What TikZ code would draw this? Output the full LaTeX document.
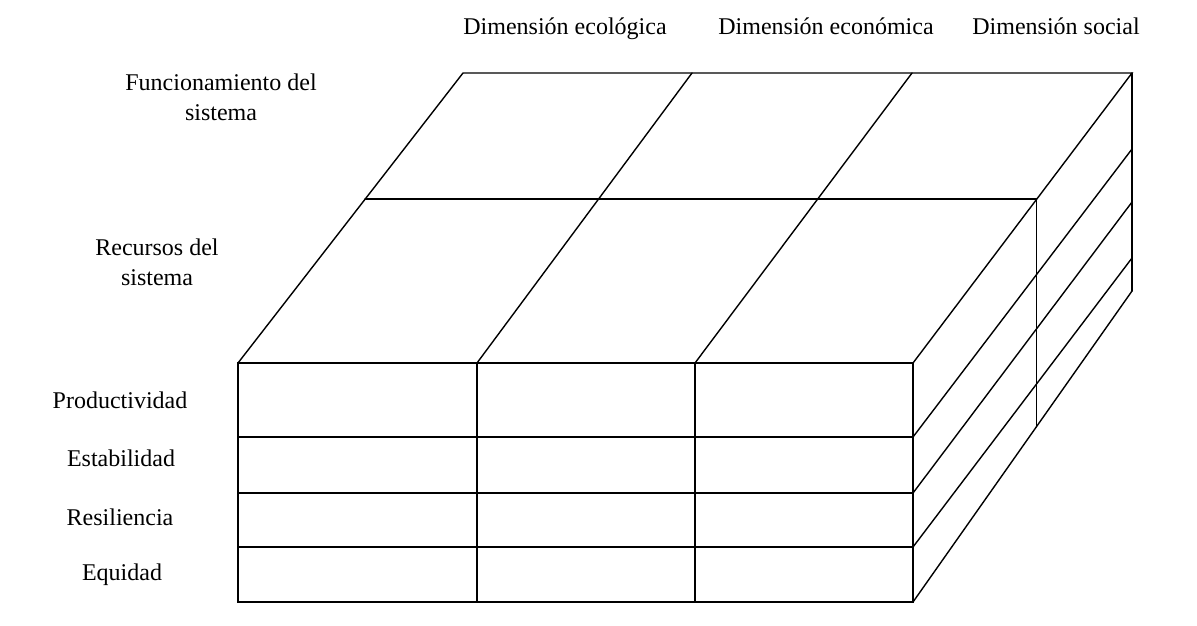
\documentclass[tikz,border=0pt]{standalone}
\usepackage{fontspec}
\setmainfont{Liberation Serif}
\begin{document}
\begin{tikzpicture}[x=1pt,y=-1pt,
  edge/.style={line width=1.4pt, line cap=round, line join=miter},
  lbl/.style={font=\fontsize{24}{30}\selectfont, align=center, inner sep=0pt}]
\useasboundingbox (0,0) rectangle (1197,625);
% front face corners and row points
\coordinate (f0) at (238,363);
\coordinate (f1) at (477,363);
\coordinate (f2) at (695,363);
\coordinate (f3) at (913,363);
\coordinate (fb) at (238,602);
\coordinate (fr) at (913,602);
% back top edge
\coordinate (b0) at (463,73);
\coordinate (b1) at (692,73);
\coordinate (b2) at (912,73);
\coordinate (b3) at (1132,73);
% middle line ends
\coordinate (m0) at (365,199);
\coordinate (m3) at (1036.5,199);
% right face back points
\coordinate (r1) at (1132,149);
\coordinate (r2) at (1132,202);
\coordinate (r3) at (1132,258);
\coordinate (r4) at (1132,291);
% front right row points
\coordinate (q1) at (913,437);
\coordinate (q2) at (913,493);
\coordinate (q3) at (913,547);
% mid vertical bottom
\coordinate (mb) at (1036.5,426.5);

% front face
\draw[edge] (f0) rectangle (fr);
\draw[edge] (238,437) -- (q1);
\draw[edge] (238,493) -- (q2);
\draw[edge] (238,547) -- (q3);
\draw[edge] (f1) -- (477,602);
\draw[edge] (f2) -- (695,602);
% top face
\draw[edge] (f0) -- (b0) -- (b3) -- (f3);
\draw[edge] (f1) -- (b1);
\draw[edge] (f2) -- (b2);
\draw[edge] (m0) -- (m3);
% right face
\draw[edge] (b3) -- (r4);
\draw[edge] (q1) -- (r1);
\draw[edge] (q2) -- (r2);
\draw[edge] (q3) -- (r3);
\draw[edge] (fr) -- (r4);
\draw[edge] (m3) -- (mb);

% labels
\node[lbl, anchor=base] (dimE) at (565,34) {Dimensión ecológica};
\node[lbl, anchor=base] (dimC) at (826,34) {Dimensión económica};
\node[lbl, anchor=base] (dimS) at (1056,34) {Dimensión social};
\node[lbl] (func) at (221,97) {Funcionamiento del\\sistema};
\node[lbl] (rec) at (157,262) {Recursos del\\sistema};
\node[lbl] (prod) at (120,400) {Productividad};
\node[lbl] (est) at (121,458) {Estabilidad};
\node[lbl] (res) at (120,517) {Resiliencia};
\node[lbl] (equ) at (122,575) {Equidad};
\end{tikzpicture}
\end{document}
